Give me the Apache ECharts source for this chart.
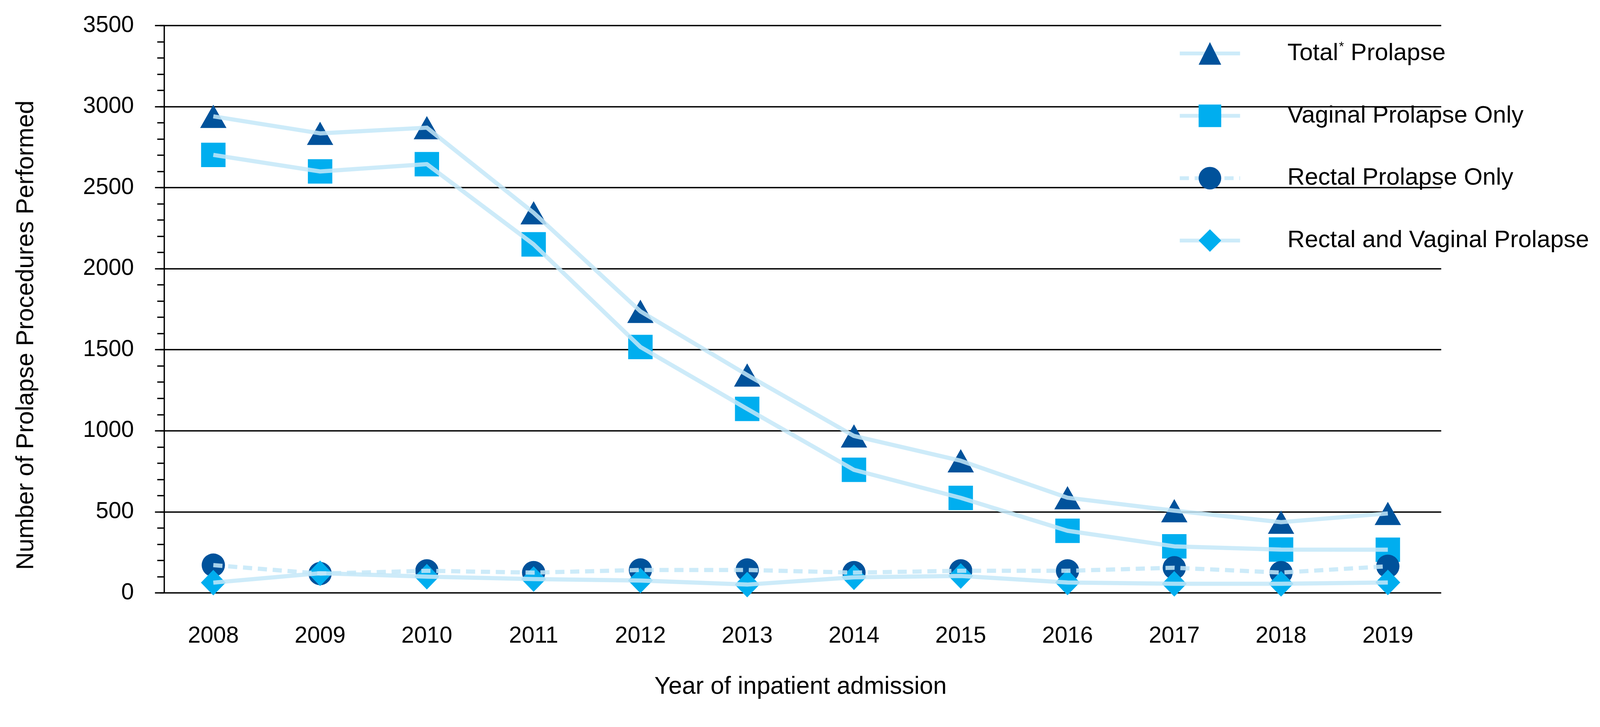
<!DOCTYPE html>
<html><head><meta charset="utf-8">
<script src="https://cdn.jsdelivr.net/npm/echarts@6/dist/echarts.min.js"></script>
<style>html,body{margin:0;padding:0;background:#fff;overflow:hidden}#c{width:100vw;height:100vh}</style>
</head><body><div id="c"></div>
<script>
const years = ['2008','2009','2010','2011','2012','2013','2014','2015','2016','2017','2018','2019'];
const totalProlapse = [2940, 2835, 2870, 2345, 1737, 1344, 968, 815, 587, 507, 436, 490];
const vaginalOnly = [2702, 2600, 2645, 2150, 1517, 1135, 759, 586, 383, 287, 267, 266];
const rectalOnly = [171, 119, 136, 125, 141, 141, 125, 136, 136, 155, 125, 164];
const rectalVaginal = [63, 121, 100, 85, 76, 51, 96, 104, 64, 56, 56, 64];
const seriesNames = ['Total* Prolapse', 'Vaginal Prolapse Only', 'Rectal Prolapse Only', 'Rectal and Vaginal Prolapse'];
const yAxisTitle = 'Number of Prolapse Procedures Performed';
const xAxisTitle = 'Year of inpatient admission';

// design is laid out for a 4192 px wide page; scale to the actual viewport
const S = (window.innerWidth || 4192) / 4192;
const p = v => v * S;

const DARK = '#00529B', CYAN = '#00AEEF';
const LINE = 'rgba(196,231,248,0.85)', LINE_SOLID = '#CDEBF9';
const FONT = "'Liberation Sans',Arial,sans-serif";

const specs = [
  { data: totalProlapse, symbol: 'triangle', size: [p(69), p(61)], color: DARK, dash: 'solid' },
  { data: vaginalOnly, symbol: 'rect', size: [p(64), p(64)], color: CYAN, dash: 'solid' },
  { data: rectalOnly, symbol: 'circle', size: [p(61), p(61)], color: DARK, dash: [p(24), p(15)] },
  { data: rectalVaginal, symbol: 'diamond', size: [p(65), p(67)], color: CYAN, dash: 'solid' }
];

const series = [];
specs.forEach((s, i) => {
  series.push({
    name: seriesNames[i], type: 'line', data: s.data,
    symbol: s.symbol, symbolSize: s.size, showSymbol: true,
    itemStyle: { color: s.color },
    lineStyle: { opacity: 0, width: p(11), color: LINE_SOLID },
    z: 2, animation: false
  });
});
specs.forEach((s, i) => {
  series.push({
    name: seriesNames[i], type: 'line', data: s.data,
    symbol: 'none', showSymbol: false,
    itemStyle: { color: s.color },
    lineStyle: { color: LINE, width: p(11), type: s.dash, cap: 'butt', join: 'round' },
    z: 3, silent: true, animation: false
  });
});

const legendData = seriesNames.map((n, i) => ({
  name: n,
  lineStyle: { color: LINE_SOLID, width: p(10), type: specs[i].dash, opacity: 1 }
}));

const chart = echarts.init(document.getElementById('c'), null, { renderer: 'canvas' });
chart.setOption({
  backgroundColor: '#ffffff',
  animation: false,
  grid: { left: p(419), top: p(67), width: p(3776 - 419), height: p(1554 - 67), containLabel: false },
  legend: {
    orient: 'vertical', left: p(3086), top: p(103), padding: 0,
    itemWidth: p(158), itemHeight: p(74), itemGap: p(89.5),
    data: legendData,
    selectedMode: false,
    formatter: function (name) {
      if (name === 'Total* Prolapse') return '{g|}{t|Total}{s|*}{t| Prolapse}';
      return '{g|}{t|' + name + '}';
    },
    textStyle: {
      fontFamily: FONT, fontSize: p(63), color: '#000', lineHeight: p(74),
      rich: {
        g: { width: p(119), height: p(74) },
        t: { fontFamily: FONT, fontSize: p(63), color: '#000', lineHeight: p(74) },
        s: { fontFamily: FONT, fontSize: p(34), color: '#000', lineHeight: p(74), verticalAlign: 'top', padding: [p(4), 0, 0, p(2)] }
      }
    }
  },
  xAxis: {
    type: 'category', data: years, boundaryGap: true,
    axisLine: { show: false }, axisTick: { show: false },
    axisLabel: { margin: p(84), fontSize: p(60), fontFamily: FONT, color: '#000' },
    splitLine: { show: false },
    name: xAxisTitle, nameLocation: 'middle', nameGap: p(215),
    nameTextStyle: { fontSize: p(64), fontFamily: FONT, color: '#000' }
  },
  yAxis: {
    type: 'value', min: 0, max: 3500, interval: 500, offset: p(-11),
    axisLine: { show: true, lineStyle: { color: '#000', width: p(3.5) } },
    axisTick: { show: true, length: p(24), lineStyle: { color: '#000', width: p(3.5) } },
    minorTick: { show: true, splitNumber: 5, length: p(18), lineStyle: { color: '#000', width: p(3.5) } },
    splitLine: { show: true, lineStyle: { color: '#000', width: p(3.5) } },
    axisLabel: { margin: p(79), fontSize: p(60), fontFamily: FONT, color: '#000', formatter: function (v) { return String(v); } },
    name: yAxisTitle, nameLocation: 'middle', nameGap: p(328), nameRotate: 90,
    nameTextStyle: { fontSize: p(64), fontFamily: FONT, color: '#000', padding: [0, p(136), 0, 0] }
  },
  series: series
});
window.addEventListener('resize', () => chart.resize());
</script>
</body></html>
